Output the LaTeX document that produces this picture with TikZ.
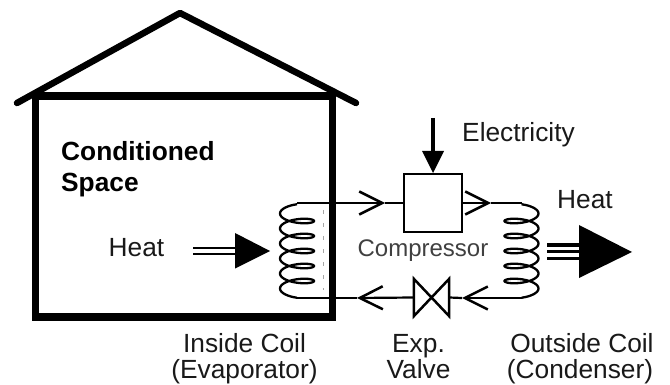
\documentclass[tikz,border=0pt]{standalone}
\usepackage{fontspec}
\setmainfont{Liberation Sans}
\usetikzlibrary{arrows.meta}
\tikzset{
  wall/.style={line width=7.5pt,line join=miter},
  roof/.style={line width=6.5pt,line cap=round,line join=round},
  pipe/.style={line width=2.2pt},
  flow/.style={line width=2.2pt,-{Straight Barb[length=23pt,width=23pt,line width=2.5pt]}},
  coil/.style={line width=2.3pt,smooth,samples=180},
  label/.style={inner sep=0pt,anchor=base,font=\fontsize{26.3}{26}\selectfont,text=black!90},
  title/.style={inner sep=0pt,anchor=base west,font=\fontsize{26.3}{27}\selectfont\bfseries},
  solid head/.style={fill=black,draw=none},
  hatch/.style={line width=2pt,black},
}
\begin{document}
\begin{tikzpicture}[x=1pt,y=-1pt]
\useasboundingbox (0,0) rectangle (670,385);
% house
\draw[wall] (35.5,96) rectangle (332.5,317);
\coordinate (rl) at (17,103); \coordinate (ra) at (180,13); \coordinate (rr) at (356,103);
\draw[roof] (rl) -- (ra) -- (rr);
\node[title] (cs1) at (61,161) {Conditioned};
\node[title] (cs2) at (61,192) {Space};
% coils
\coordinate (lt) at (297,203); \coordinate (lb) at (297,298);
\coordinate (rt) at (521.5,203); \coordinate (rb) at (521.5,298);
\draw[coil,domain=90:2070] plot ({297+17*cos(\x)},{221+(\x-360)/24-5.5*sin(\x)});
\draw[coil,domain=90:2070] plot ({521.5-17*cos(\x)},{221+(\x-360)/24-5.5*sin(\x)});
\draw[black!35,line width=1pt,dash pattern=on 4pt off 9pt] (323,210) -- (323,290);
% compressor and valve
\node[draw,line width=2.5pt,minimum width=58pt,minimum height=58pt,inner sep=0pt] (comp) at (433,203) {};
\node[minimum width=35pt,minimum height=37pt,inner sep=0pt] (valve) at (431.5,297.5) {};
\draw[line width=2.5pt,line join=miter] (valve.north west) -- (valve.south east) -- (valve.north east) -- (valve.south west) -- cycle;
% refrigerant loop
\coordinate (f1) at (385,203); \coordinate (f2) at (491,203);
\coordinate (f3) at (462,298); \coordinate (f4) at (357,298);
\draw[flow] (lt) -- (f1);
\draw[pipe] (f1) -- (comp.west);
\draw[flow] (comp.east) -- (f2);
\draw[pipe] (f2) -- (rt);
\draw[flow] (rb) -- (f3);
\draw[pipe] (f3) -- (valve.east);
\draw[flow] (valve.west) -- (f4);
\draw[pipe] (f4) -- (lb);
% electricity
\coordinate (e0) at (433,118); \coordinate (e1) at (433,152);
\draw[line width=3.5pt] (e0) -- (e1);
\fill[solid head] (422,151) -- (444,151) -- (433,173) -- cycle;
% heat in
\draw[hatch] (193,248) -- (236,248);
\draw[hatch] (193,254) -- (236,254);
\fill[solid head] (235,233) -- (270,251) -- (235,268.5) -- cycle;
% heat out
\draw[line width=3pt] (547,245) -- (580,245);
\draw[line width=3pt] (547,251.5) -- (580,251.5);
\draw[line width=3pt] (547,258) -- (580,258);
\fill[solid head] (579,225) -- (632,252) -- (579,278) -- cycle;
% labels
\node[label] (t1) at (518.5,142) {Electricity};
\node[label] (t2) at (585,209) {Heat};
\node[label] (t3) at (136.5,257) {Heat};
\node[label,font=\fontsize{24}{24}\selectfont,text=black!75] (t4) at (423,257) {Compressor};
\node[label] (t5) at (244.5,352) {Inside Coil};
\node[label] (t6) at (244.5,378.5) {(Evaporator)};
\node[label] (t7) at (418.5,352) {Exp.};
\node[label] (t8) at (418.5,378.5) {Valve};
\node[label] (t9) at (582,352) {Outside Coil};
\node[label] (t10) at (580,378) {(Condenser)};
\end{tikzpicture}
\end{document}
